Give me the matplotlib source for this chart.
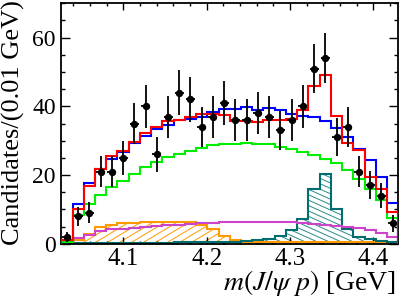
import numpy as np
import matplotlib
matplotlib.use("Agg")
import matplotlib.pyplot as plt
from matplotlib.patches import Polygon
from matplotlib.collections import LineCollection
from matplotlib.ticker import MultipleLocator

# ---------------- data ----------------
x_lo, x_hi = 4.0256, 4.4300
n_bins = 30
edges = np.linspace(x_lo, x_hi, n_bins + 1)
centers = 0.5 * (edges[:-1] + edges[1:])

data_counts = [2, 8, 9, 21, 21, 25, 35, 40, 26, 37, 44, 42, 34, 37, 41,
               36, 36, 38, 37, 33, 36, 40, 51, 54, 31, 34, 21, 17, 14, 6]

fit_with_pc = [1.1, 10.2, 16.8, 21.8, 25.6, 27.1, 29.7, 32.3, 34.0, 35.7, 36.1, 36.8, 37.8, 37.8, 37.5,
               35.7, 35.7, 35.4, 36.0, 36.0, 36.3, 39.0, 46.0, 49.2, 37.2, 29.4, 27.4, 19.5, 15.8, 9.3]

fit_no_pc = [1.1, 11.6, 17.7, 21.8, 24.6, 26.7, 29.3, 31.3, 33.3, 34.6, 36.0, 36.3, 37.0, 38.3, 39.2,
             39.2, 39.9, 39.0, 39.5, 38.8, 37.8, 37.3, 36.8, 35.8, 33.8, 31.1, 27.6, 24.5, 19.4, 11.8]

comp_green = [0.5, 8.5, 11.7, 14.1, 16.5, 18.3, 20.4, 22.3, 23.8, 25.2, 26.0, 27.0, 27.9, 28.6, 29.0,
              29.1, 29.3, 29.0, 29.0, 28.1, 27.5, 26.7, 25.7, 24.8, 23.4, 21.4, 18.8, 15.8, 12.7, 7.6]

comp_orange = [0.3, 1.0, 2.9, 4.8, 5.3, 5.9, 6.1, 6.3, 6.4, 6.4, 6.4, 6.3, 5.4, 4.2, 2.3,
               1.1, 0.6, 0.5, 0.4, 0.4, 0.4, 0.4, 0.4, 0.4, 0.4, 0.4, 0.4, 0.4, 0.4, 0.4]

comp_magenta = [0.7, 1.8, 2.6, 3.6, 4.2, 4.4, 4.7, 4.9, 5.1, 5.3, 5.4, 5.6, 5.9, 6.1, 6.3,
                6.4, 6.4, 6.4, 6.4, 6.3, 6.2, 6.0, 5.8, 5.5, 5.1, 4.8, 4.5, 4.0, 3.1, 2.0]

comp_pc = [0.3, 0.3, 0.3, 0.3, 0.3, 0.3, 0.3, 0.3, 0.3, 0.3, 0.4, 0.4, 0.4, 0.4, 0.4,
           0.6, 0.9, 1.1, 1.5, 2.3, 4.0, 7.1, 15.8, 20.2, 10.0, 4.2, 2.0, 1.3, 0.8, 0.5]

x_ticks_major = [4.1, 4.2, 4.3, 4.4]
x_tick_labels = ["4.1", "4.2", "4.3", "4.4"]
y_ticks_major = [0, 20, 40, 60]

# ---------------- style ----------------
plt.rcParams["font.family"] = ["Liberation Serif", "DejaVu Serif"]
plt.rcParams["mathtext.fontset"] = "stix"

W_PX, H_PX = 407, 297
fig = plt.figure(figsize=(W_PX / 100, H_PX / 100), dpi=100)
ax_l, ax_r, ax_t, ax_b = 61.3, 398.3, 3.3, 243.7
ax = fig.add_axes([ax_l / W_PX, 1 - ax_b / H_PX, (ax_r - ax_l) / W_PX, (ax_b - ax_t) / H_PX])
AW, AH = ax_r - ax_l, ax_b - ax_t


def step_polygon(vals):
    xs = np.repeat(edges, 2)
    ys = np.concatenate([[0], np.repeat(vals, 2), [0]])
    return np.column_stack([xs, ys])


def hatched(vals, color, slope_px, spacing_px, lw, z):
    patch = Polygon(step_polygon(vals), closed=True, facecolor="none",
                    edgecolor="none", transform=ax.transData)
    ax.add_patch(patch)
    k = slope_px * AW / AH
    dx = spacing_px / AW
    segs = []
    for c in np.arange(-4, 4, dx):
        segs.append([(-0.5, k * (-0.5 - c)), (1.5, k * (1.5 - c))])
    lc = LineCollection(segs, colors=color, linewidths=lw, transform=ax.transAxes, zorder=z)
    ax.add_collection(lc, autolim=False)
    lc.set_clip_path(patch)


orange = "#ff9900"
teal = "#006e6e"
magenta = "#cc44cc"

hatched(comp_orange, orange, 0.6, 12, 0.7, 1)
hatched(comp_pc, "#2a8a8a", -0.45, 12, 0.7, 1)

ax.stairs(comp_orange, edges, color=orange, lw=1.5, zorder=2)
ax.stairs(comp_pc, edges, color=teal, lw=1.5, zorder=2.1)
ax.stairs(comp_magenta, edges, color=magenta, lw=1.5, zorder=2.2)
ax.stairs(comp_green, edges, color="#00ee00", lw=1.5, zorder=3)
ax.stairs(fit_no_pc, edges, color="#0000ff", lw=1.5, zorder=4)
ax.stairs(fit_with_pc, edges, color="#ff0000", lw=1.5, zorder=5)

counts = np.array(data_counts, dtype=float)
bw = edges[1] - edges[0]
ax.errorbar(centers, counts, yerr=np.sqrt(counts), xerr=0.4 * bw, fmt="o",
            color="black", ms=4.3, elinewidth=1.3, capsize=0, zorder=6)

ax.set_xlim(x_lo, x_hi)
ax.set_ylim(0, 70)

ax.set_xticks(x_ticks_major)
ax.set_xticklabels(x_tick_labels)
ax.set_yticks(y_ticks_major)
ax.xaxis.set_minor_locator(MultipleLocator(0.02))
ax.yaxis.set_minor_locator(MultipleLocator(5))
ax.tick_params(axis="x", which="major", direction="in", length=5, width=1.0,
               top=True, bottom=True, labelsize=18, pad=3)
ax.tick_params(axis="x", which="minor", direction="in", length=2.5, width=1.0,
               top=True, bottom=True)
ax.tick_params(axis="y", which="major", direction="in", length=6.5, width=1.0,
               left=True, right=True, labelsize=17, pad=4)
ax.tick_params(axis="y", which="minor", direction="in", length=3.2, width=1.0,
               left=True, right=True)
for s in ax.spines.values():
    s.set_linewidth(1.3)

ax.set_ylabel("Candidates/(0.01 GeV)", fontsize=19, loc="top")
ax.yaxis.set_label_coords(-0.108, 1.012)
ax.set_xlabel(r"$m(J/\psi\ p)$ [GeV]", fontsize=20, loc="right")
ax.xaxis.set_label_coords(0.993, -0.1)

fig.savefig("out.png", dpi=100)
